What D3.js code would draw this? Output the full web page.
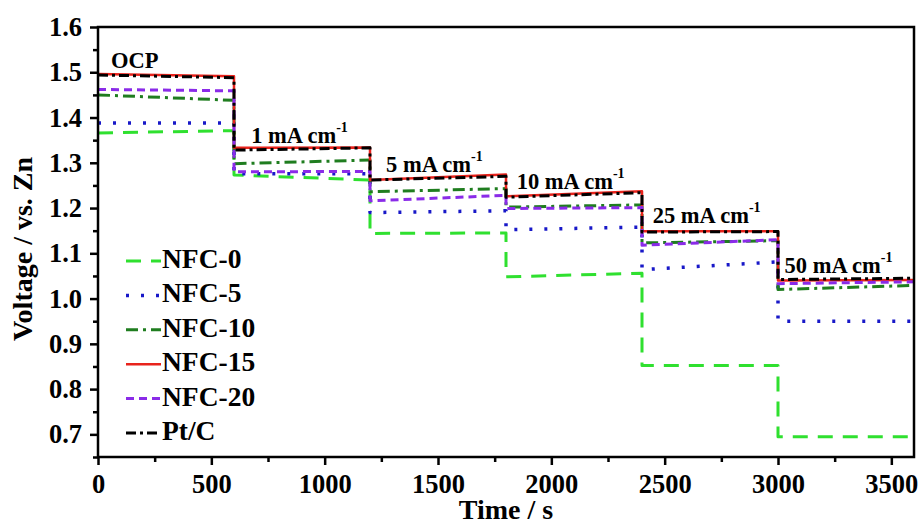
<!DOCTYPE html>
<html>
<head>
<meta charset="utf-8">
<script src="https://cdn.jsdelivr.net/npm/d3@7"></script>
<style>
  body { margin: 0; background: #fff; }
  svg text, svg tspan { font-family: "Liberation Serif", "Times New Roman", serif; font-weight: bold; }
</style>
</head>
<body>
<div id="chart"></div>
<script>
// segment boundaries (s) and voltages at start / end of each step
const segTimes = [0, 600, 1200, 1800, 2400, 3000, 3600]
const nfc0  = [[1.366, 1.371], [1.273, 1.262], [1.144, 1.145], [1.048, 1.056], [0.852, 0.852], [0.695, 0.695]]
const nfc5  = [[1.388, 1.388], [1.276, 1.276], [1.190, 1.194], [1.152, 1.158], [1.064, 1.081], [0.950, 0.950]]
const nfc10 = [[1.450, 1.438], [1.298, 1.306], [1.236, 1.243], [1.202, 1.207], [1.123, 1.128], [1.020, 1.029]]
const nfc15 = [[1.496, 1.491], [1.333, 1.334], [1.262, 1.274], [1.226, 1.237], [1.149, 1.149], [1.040, 1.041]]
const nfc20 = [[1.462, 1.459], [1.280, 1.281], [1.216, 1.228], [1.199, 1.201], [1.118, 1.130], [1.033, 1.037]]
const ptc   = [[1.494, 1.488], [1.328, 1.333], [1.262, 1.270], [1.224, 1.234], [1.147, 1.148], [1.042, 1.045]]

const seriesNames = ['NFC-0', 'NFC-5', 'NFC-10', 'NFC-15', 'NFC-20', 'Pt/C']
const seriesData = [nfc0, nfc5, nfc10, nfc15, nfc20, ptc]
const colors = ['#2fe02f', '#1818c8', '#1f7d1f', '#e8231c', '#8a2be8', '#000000']
const dashes = ['15,10', '3,12', '12,5,3,5', null, '8,5', '10,4,3,4']
const widths = [3, 3.5, 3, 2.5, 3, 3]

// step labels: text, time, voltage of baseline
const stepLabels = ['OCP', '1 mA cm', '5 mA cm', '10 mA cm', '25 mA cm', '50 mA cm']
const labelTimes = [57, 676, 1271, 1847, 2447, 3029]
const labelVolts = [1.509, 1.343, 1.280, 1.243, 1.166, 1.057]

const xTicks = [0, 500, 1000, 1500, 2000, 2500, 3000, 3500]
const xMinor = [250, 750, 1250, 1750, 2250, 2750, 3250]
const yTicks = [0.7, 0.8, 0.9, 1.0, 1.1, 1.2, 1.3, 1.4, 1.5, 1.6]
const yMinor = [0.65, 0.75, 0.85, 0.95, 1.05, 1.15, 1.25, 1.35, 1.45, 1.55]

const serif = '"Liberation Serif", "Times New Roman", serif'
const width = 921, height = 524
const margin = {top: 27, right: 7, bottom: 67, left: 98}

const svg = d3.select('#chart').append('svg')
    .attr('width', width).attr('height', height)
    .style('font-family', serif)
    .style('font-weight', 'bold')

const x = d3.scaleLinear().domain([0, 3600]).range([margin.left, width - margin.right])
const y = d3.scaleLinear().domain([0.65, 1.6]).range([height - margin.bottom, margin.top])

function toPoints(steps) {
  const pts = []
  steps.forEach((s, i) => {
    pts.push([segTimes[i], s[0]])
    pts.push([segTimes[i + 1], s[1]])
  })
  return pts
}

const line = d3.line().x(d => x(d[0])).y(d => y(d[1]))

svg.append('g')
    .attr('fill', 'none')
    .attr('stroke-linejoin', 'round')
  .selectAll('path')
  .data(seriesData)
  .enter().append('path')
    .attr('d', d => line(toPoints(d)))
    .attr('stroke', (d, i) => colors[i])
    .attr('stroke-width', (d, i) => widths[i])
    .attr('stroke-dasharray', (d, i) => dashes[i])

// frame
svg.append('rect')
    .attr('x', x(0)).attr('y', y(1.6))
    .attr('width', x(3600) - x(0)).attr('height', y(0.65) - y(1.6))
    .attr('fill', 'none').attr('stroke', '#000').attr('stroke-width', 2.5)

function styleAxis(g) {
  g.attr('font-family', null).attr('font-size', null)
  g.select('.domain').remove()
  g.selectAll('.tick line').attr('stroke-width', 2.5)
  g.selectAll('.tick text')
      .attr('font-size', 26.5)
      .style('font-family', serif)
      .attr('fill', '#000')
}

svg.append('g')
    .attr('transform', 'translate(0,' + y(0.65) + ')')
    .call(d3.axisBottom(x).tickValues(xMinor).tickSize(5).tickFormat(''))
    .call(styleAxis)
svg.append('g')
    .attr('transform', 'translate(0,' + y(0.65) + ')')
    .call(d3.axisBottom(x).tickValues(xTicks).tickSize(8).tickPadding(9).tickFormat(d3.format('d')))
    .call(styleAxis)

svg.append('g')
    .attr('transform', 'translate(' + x(0) + ',0)')
    .call(d3.axisLeft(y).tickValues(yMinor).tickSize(5).tickFormat(''))
    .call(styleAxis)
svg.append('g')
    .attr('transform', 'translate(' + x(0) + ',0)')
    .call(d3.axisLeft(y).tickValues(yTicks).tickSize(8).tickPadding(8).tickFormat(d3.format('.1f')))
    .call(styleAxis)

svg.append('text')
    .attr('x', (x(0) + x(3600)) / 2).attr('y', 519)
    .attr('text-anchor', 'middle').attr('font-size', 28)
    .text('Time / s')

svg.append('text')
    .attr('transform', 'translate(32,' + 249 + ') rotate(-90)')
    .attr('text-anchor', 'middle').attr('font-size', 28)
    .text('Voltage / vs. Zn')

// step annotations
const ann = svg.append('g').selectAll('text')
  .data(stepLabels)
  .enter().append('text')
    .attr('x', (d, i) => x(labelTimes[i]))
    .attr('y', (d, i) => y(labelVolts[i]))
    .attr('font-size', 22.5)
    .text(d => d)
ann.filter((d, i) => i > 0).append('tspan')
    .attr('font-size', 14)
    .attr('dy', -11)
    .text('-1')

// legend
const legend = svg.append('g')
  .selectAll('g')
  .data(seriesNames)
  .enter().append('g')
    .attr('transform', (d, i) => 'translate(126,' + (268 + i * 34.4) + ')')

legend.append('line')
    .attr('x1', 0).attr('x2', 35).attr('y1', -7).attr('y2', -7)
    .attr('stroke', (d, i) => colors[i])
    .attr('stroke-width', (d, i) => widths[i])
    .attr('stroke-dasharray', (d, i) => dashes[i])

legend.append('text')
    .attr('x', 36).attr('y', 0)
    .attr('font-size', 27.5)
    .text(d => d)
</script>
</body>
</html>
